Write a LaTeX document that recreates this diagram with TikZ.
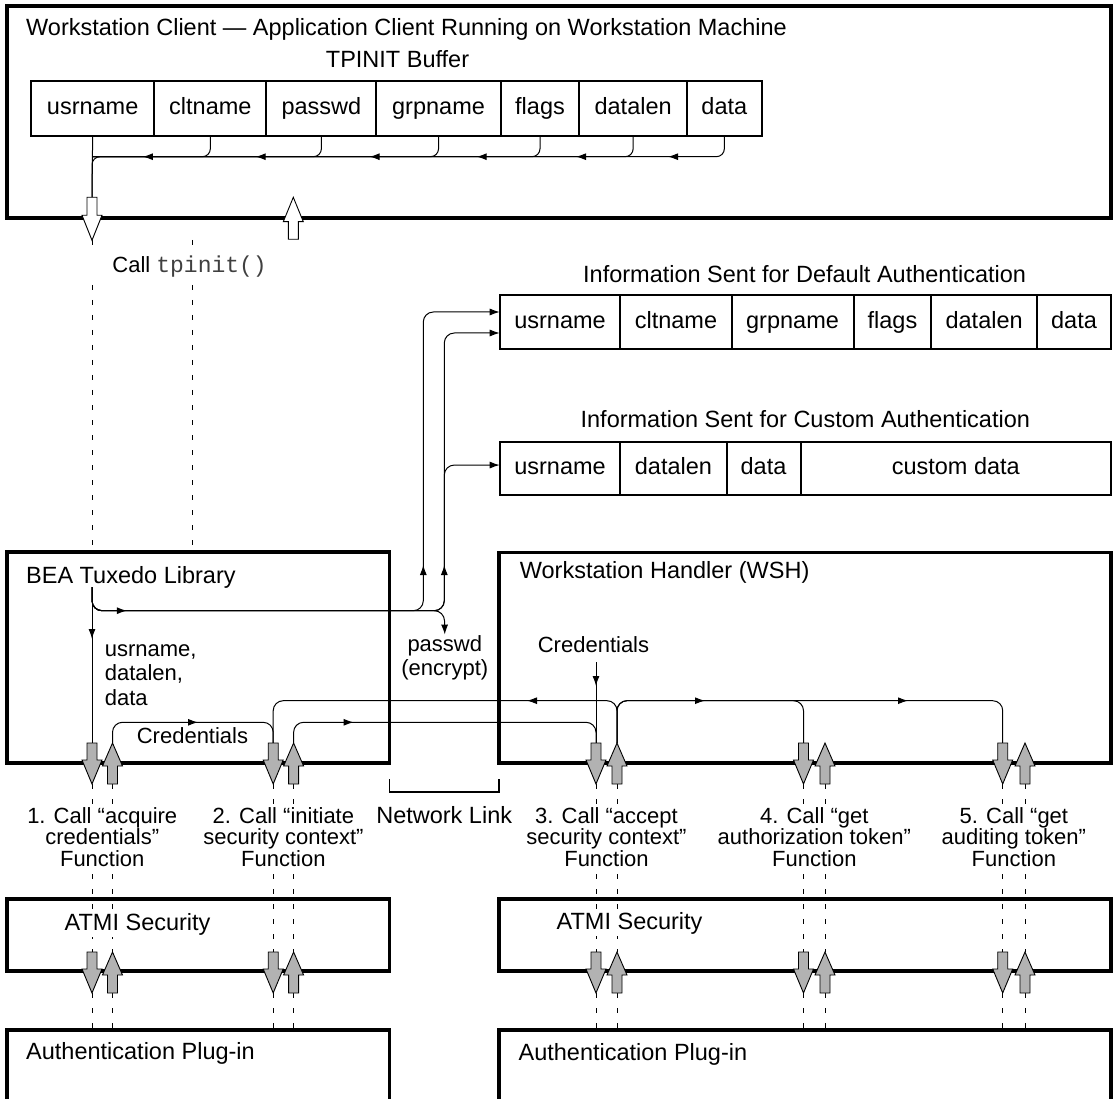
\documentclass[tikz,border=0pt]{standalone}
\usepackage{fontspec}
\setmainfont{Liberation Sans}
\setmonofont{Liberation Mono}
\usetikzlibrary{arrows.meta}
% down block arrow: x, top y, fill, shaft length, total length
\newcommand\myDnArr[5]{\filldraw[fill=#3,draw=black,line width=0.9pt] ({#1-5},{#2}) -- ({#1+5},{#2}) -- ({#1+5},{#2+#4}) -- ({#1+10},{#2+#4}) -- ({#1},{#2+#5}) -- ({#1-10},{#2+#4}) -- ({#1-5},{#2+#4}) -- cycle;}
% up block arrow: x, tip y, fill, head length, total length
\newcommand\myUpArr[5]{\filldraw[fill=#3,draw=black,line width=0.9pt] ({#1},{#2}) -- ({#1+10},{#2+#4}) -- ({#1+5},{#2+#4}) -- ({#1+5},{#2+#5}) -- ({#1-5},{#2+#5}) -- ({#1-5},{#2+#4}) -- ({#1-10},{#2+#4}) -- cycle;}
% small arrow head on a line: tip x, tip y, dx, dy (direction)
\newcommand\myTip[4]{\draw[line width=1pt,-{Latex[length=10pt,width=7pt]}] ({#1-#3},{#2-#4}) -- ({#1},{#2});}
\begin{document}
\begin{tikzpicture}[x=1pt,y=-1pt,
  big/.style={font=\fontsize{23.5}{25}\selectfont},
  small/.style={font=\fontsize{22}{21.5}\selectfont},
  box/.style={draw,line width=3.2pt,inner sep=0pt,outer sep=0pt},
  cell/.style={draw,line width=2pt,inner sep=0pt,outer sep=0pt,text height=17pt,text depth=4pt,font=\fontsize{23.5}{25}\selectfont},
  conn/.style={line width=1pt,rounded corners=10pt},
  arrend/.style={-{Latex[length=10pt,width=7pt]}},
  dashln/.style={line width=1pt,dash pattern=on 5pt off 10pt},
  lbl/.style={inner sep=1pt}]
\useasboundingbox (0,0) rectangle (1117,1099);
\clip (0,0) rectangle (1117,1099);

% ---------- containers ----------
\node[box,minimum width=1104pt,minimum height=212pt] (ws) at (559,112) {};
\node[big,anchor=base west,lbl] (wst) at (25,35.7) {Workstation Client — Application Client Running on Workstation Machine};
\node[big,anchor=base,lbl] (tpt) at (397.5,68) {TPINIT Buffer};

\node[box,minimum width=382.3pt,minimum height=211pt] (bea) at (198.15,657.5) {};
\node[big,anchor=base west,lbl] (beat) at (25,583) {BEA Tuxedo Library};
\node[box,minimum width=612pt,minimum height=210.3pt] (wsh) at (805,657.85) {};
\node[big,anchor=base west,lbl] (wsht) at (518.7,578) {Workstation Handler (WSH)};

\node[box,minimum width=382.3pt,minimum height=72pt] (atmiL) at (198.15,935) {};
\node[box,minimum width=612pt,minimum height=72pt] (atmiR) at (805,935) {};

\draw[line width=3.2pt] (7,1115) -- (7,1030) -- (389.3,1030) -- (389.3,1115);
\node[big,anchor=base west,lbl] (authLt) at (25,1059) {Authentication Plug-in};
\draw[line width=3.2pt] (499,1115) -- (499,1030) -- (1111,1030) -- (1111,1115);
\node[big,anchor=base west,lbl] (authRt) at (517.4,1060) {Authentication Plug-in};

% ---------- TPINIT buffer ----------
\node[cell,minimum width=123.3pt,minimum height=55.6pt] (t-usr) at (92.65,108.5) {usrname};
\node[cell,minimum width=112.1pt,minimum height=55.6pt] (t-clt) at (210.35,108.5) {cltname};
\node[cell,minimum width=110pt,minimum height=55.6pt] (t-pw) at (321.4,108.5) {passwd};
\node[cell,minimum width=124.3pt,minimum height=55.6pt] (t-grp) at (438.55,108.5) {grpname};
\node[cell,minimum width=78.6pt,minimum height=55.6pt] (t-flg) at (540,108.5) {flags};
\node[cell,minimum width=107.7pt,minimum height=55.6pt] (t-dl) at (633.15,108.5) {datalen};
\node[cell,minimum width=74.7pt,minimum height=55.6pt] (t-dt) at (724.35,108.5) {data};

% ---------- default authentication ----------
\node[big,anchor=base,lbl] (deft) at (804.6,283) {Information Sent for Default Authentication};
\node[cell,minimum width=120.7pt,minimum height=54.3pt] (d-usr) at (560.05,322.2) {usrname};
\node[cell,minimum width=111.1pt,minimum height=54.3pt] (d-clt) at (675.95,322.2) {cltname};
\node[cell,minimum width=122.1pt,minimum height=54.3pt] (d-grp) at (792.55,322.2) {grpname};
\node[cell,minimum width=77.7pt,minimum height=54.3pt] (d-flg) at (892.45,322.2) {flags};
\node[cell,minimum width=105.7pt,minimum height=54.3pt] (d-dl) at (984.15,322.2) {datalen};
\node[cell,minimum width=74pt,minimum height=54.3pt] (d-dt) at (1074,322.2) {data};

% ---------- custom authentication ----------
\node[big,anchor=base,lbl] (cust) at (805.3,428) {Information Sent for Custom Authentication};
\node[cell,minimum width=120.7pt,minimum height=53.3pt] (c-usr) at (560.05,468.35) {usrname};
\node[cell,minimum width=106.1pt,minimum height=53.3pt] (c-dl) at (673.45,468.35) {datalen};
\node[cell,minimum width=74pt,minimum height=53.3pt] (c-dt) at (763.5,468.35) {data};
\node[cell,minimum width=310.5pt,minimum height=53.3pt] (c-cd) at (955.75,468.35) {custom data};

% ---------- coordinates ----------
\coordinate (ybus) at (0,156.7);
\coordinate (hin) at (92,197.3);
\coordinate (bsrc) at (92,587);
\coordinate (jA) at (423.3,610.7);
\coordinate (jB) at (444.3,610.7);
\coordinate (ylow) at (0,722.3);
\coordinate (yhigh) at (0,700.7);
\coordinate (d1) at (92,743);
\coordinate (u1) at (112.5,743);
\coordinate (d2) at (273.2,743);
\coordinate (u2) at (293.6,743);
\coordinate (d3) at (596,743);
\coordinate (u3) at (617,743);
\coordinate (d4) at (803.5,743);
\coordinate (d5) at (1002.7,743);
\coordinate (credfoot) at (596,662);

% ---------- TPINIT flow ----------
\draw[conn,rounded corners=8pt] (t-dt.south) |- (hin |- ybus) -- (hin);
\draw[line width=1pt] (t-usr.south) -- (hin);
\foreach \c in {t-clt,t-pw,t-grp,t-flg,t-dl}
  \draw[conn,rounded corners=8pt] (\c.south) |- (hin |- ybus);
\myTip{142.9}{156.7}{-2}{0}
\myTip{255.7}{156.7}{-2}{0}
\myTip{369.6}{156.7}{-2}{0}
\myTip{476.7}{156.7}{-2}{0}
\myTip{576}{156.7}{-2}{0}
\myTip{668}{156.7}{-2}{0}

% ---------- Call tpinit() ----------
\foreach \x in {92,192.5} {
  \draw[dashln] (\x,240) -- (\x,250);
  \draw[dashln] (\x,285) -- (\x,551);
}
\node[small,anchor=base,lbl] (call) at (189.6,273) {Call {\fontsize{23}{25}\selectfont\ttfamily\color{black!75}tpinit()}};

% ---------- BEA library flows ----------
\draw[conn,arrend] (bsrc) |- (jA) |- ([yshift=10.2pt]d-usr.west);
\draw[conn,arrend] (bsrc) |- (jB) |- ([yshift=-10.8pt]d-usr.west);
\draw[conn,arrend] (bsrc) |- (jB) |- ([yshift=3.3pt]c-usr.west);
\node[small,anchor=base,align=center,lbl,font=\fontsize{22}{23.3}\selectfont] (pw) at (444.8,675) {passwd\\(encrypt)};
\draw[conn,arrend] (bsrc) |- (jB) -- (pw.north);
\draw[line width=1pt] (bsrc) -- (d1);
\myTip{126.8}{610.7}{2}{0}
\myTip{423.3}{565}{0}{-2}
\myTip{444.3}{565}{0}{-2}
\myTip{92}{639}{0}{2}
\node[anchor=base west,align=left,lbl,font=\fontsize{22}{24.5}\selectfont] (ulist) at (103.6,705) {usrname,\\datalen,\\data};

% ---------- credential / context flows ----------
\draw[conn] (u1) |- (d2 |- ylow) -- (d2);
\draw[conn] (u2) |- (d3 |- ylow) -- (d3);
\draw[conn] (u3) |- (d2 |- yhigh) -- (d2);
\draw[conn] (u3) |- (d4 |- yhigh) -- (d4);
\draw[conn] (u3) |- (d5 |- yhigh) -- (d5);
\node[small,anchor=base,lbl] (credL) at (192.5,743) {Credentials};
\node[small,anchor=base,lbl] (credR) at (593.5,652) {Credentials};
\draw[line width=1pt] (credfoot) -- (d3);
\myTip{198}{722.3}{2}{0}
\myTip{353.6}{722.3}{2}{0}
\myTip{527}{700.7}{-2}{0}
\myTip{705}{700.7}{2}{0}
\myTip{908}{700.7}{2}{0}
\myTip{596}{686}{0}{2}

% ---------- network link ----------
\draw[line width=1.3pt] (389.3,779) -- (389.3,792) -- (499,792) -- (499,779);
\node[big,anchor=base,lbl] (netl) at (444.2,823) {Network Link};

% ---------- dashed call lines ----------
\foreach \x in {92,112.5,273.2,293.6,596,617,803.5,825,1002.7,1025} {
  \draw[dashln] (\x,784) -- (\x,952);
  \draw[dashln] (\x,993) -- (\x,1030);
}
\node[small,anchor=base,align=center,fill=white,lbl] (f1) at (102.25,866) {1. Call “acquire\\credentials”\\Function};
\node[small,anchor=base,align=center,fill=white,lbl] (f2) at (283.4,866) {2. Call “initiate\\security context”\\Function};
\node[small,anchor=base,align=center,fill=white,lbl] (f3) at (606.5,866) {3. Call “accept\\security context”\\Function};
\node[small,anchor=base,align=center,fill=white,lbl] (f4) at (814.3,866) {4. Call “get\\authorization token”\\Function};
\node[small,anchor=base,align=center,fill=white,lbl] (f5) at (1013.9,866) {5. Call “get\\auditing token”\\Function};
\node[big,anchor=base west,lbl,fill=white,inner sep=2pt] (atmiLt) at (62.5,930) {ATMI Security};
\node[big,anchor=base west,lbl,fill=white,inner sep=2pt] (atmiRt) at (554.5,929.5) {ATMI Security};

% ---------- block arrows ----------
\myDnArr{92}{197.3}{white}{18}{43}
\myUpArr{293.3}{197.3}{white}{24.4}{42}
\foreach \a/\b in {92/112.5,273.2/293.6,596/617,803.5/825,1002.7/1025} {
  \myDnArr{\a}{743}{gray!60}{17}{41}
  \myUpArr{\b}{743}{gray!60}{23}{41}
  \myDnArr{\a}{952}{gray!60}{17}{41}
  \myUpArr{\b}{952}{gray!60}{23}{41}
}
\end{tikzpicture}
\end{document}
